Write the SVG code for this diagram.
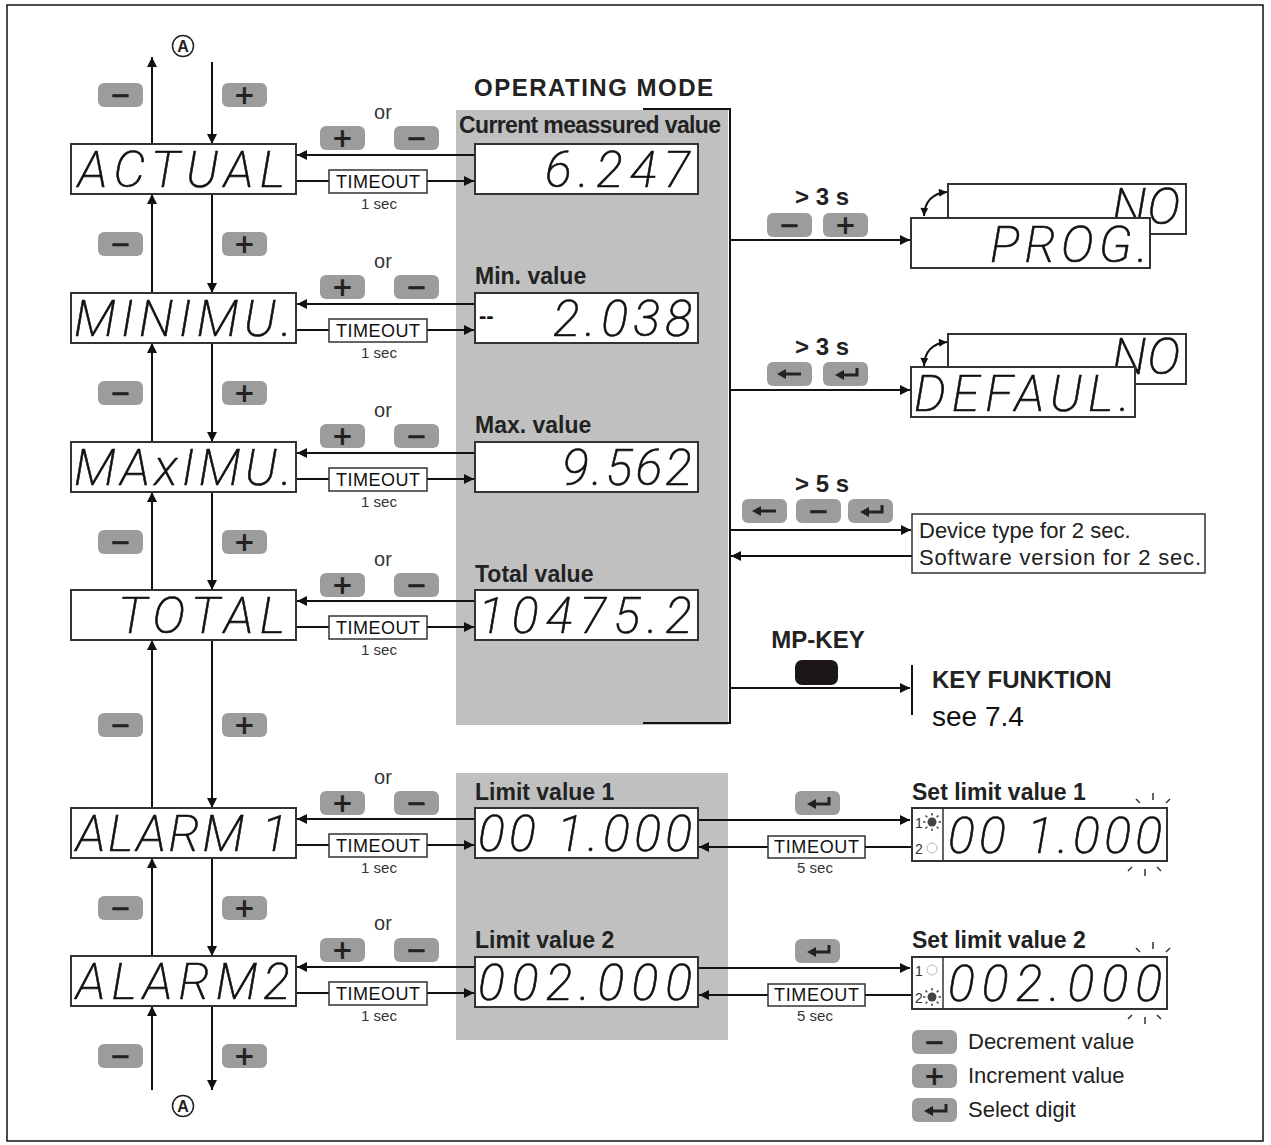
<svg xmlns="http://www.w3.org/2000/svg" xmlns:xlink="http://www.w3.org/1999/xlink" width="1271" height="1145" viewBox="0 0 1271 1145">
<style>
.btn{fill:#9c9c9c}
.bt{font-family:"DejaVu Sans",sans-serif;font-weight:bold;font-size:26px;fill:#222;text-anchor:middle}
.lcd{fill:#fff;stroke:#333;stroke-width:2}
.seg{font-family:Roboto,"DejaVu Sans",sans-serif;font-style:italic;font-weight:200;font-size:50px;fill:#111;stroke:#111;stroke-width:0.6}
.ln{stroke:#111;stroke-width:2;fill:none}
.to{font-family:"Liberation Sans",Arial,sans-serif;font-size:18px;fill:#111}
.sec{font-family:"Liberation Sans",Arial,sans-serif;font-size:15px;fill:#333;text-anchor:middle}
.or{font-family:"Liberation Sans",Arial,sans-serif;font-size:20px;fill:#333;text-anchor:middle}
.lbl{font-family:"Liberation Sans",Arial,sans-serif;font-weight:bold;font-size:23px;fill:#222}
.hd{font-family:"Liberation Sans",Arial,sans-serif;font-weight:bold;font-size:24px;fill:#222}
.tx{font-family:"Liberation Sans",Arial,sans-serif;font-size:22px;fill:#222}
.box{fill:#fff;stroke:#333;stroke-width:1.5}
.panel{fill:#c0c0c0}
.ico{stroke:#222;stroke-width:3;fill:none}
.sm{font-family:"Liberation Sans",Arial,sans-serif;font-size:14px;fill:#333}
</style>
<defs>
<marker id="ah" viewBox="0 0 10 10" refX="10" refY="5" markerWidth="13" markerHeight="10" markerUnits="userSpaceOnUse" orient="auto"><path d="M0,0 L10,5 L0,10 z" fill="#111"/></marker>
<marker id="as" viewBox="0 0 10 10" refX="10" refY="5" markerWidth="10" markerHeight="8" markerUnits="userSpaceOnUse" orient="auto-start-reverse"><path d="M0,0 L10,5 L0,10 z" fill="#111"/></marker>
<g id="bm"><rect width="45" height="24" rx="6" class="btn"/><text x="22.5" y="21" class="bt">−</text></g>
<g id="bp"><rect width="45" height="24" rx="6" class="btn"/><text x="22.5" y="21" class="bt">+</text></g>
<g id="bl"><rect width="45" height="24" rx="6" class="btn"/><line x1="34" y1="12" x2="18" y2="12" class="ico"/><path d="M10,12 L19,7 L19,17 z" fill="#222"/></g>
<g id="be"><rect width="45" height="24" rx="6" class="btn"/><polyline points="34,6 34,13 20,13" class="ico"/><path d="M12,13 L21,8 L21,18 z" fill="#222"/></g>
</defs>
<rect x="7" y="5" width="1256" height="1136" fill="#fff" stroke="#111" stroke-width="1.5"/>

<g id="panels">
<rect x="456" y="110" width="272" height="615" class="panel"/>
<rect x="456" y="773" width="272" height="267" class="panel"/>
<text x="474" y="96" class="hd" font-size="25" textLength="239">OPERATING MODE</text>
<text x="459" y="133" class="lbl" font-size="21" textLength="262">Current meassured value</text>
<text x="475" y="284" class="lbl">Min. value</text>
<text x="475" y="433" class="lbl">Max. value</text>
<text x="475" y="582" class="lbl">Total value</text>
<text x="475" y="800" class="lbl">Limit value 1</text>
<text x="475" y="948" class="lbl">Limit value 2</text>
</g>

<g id="connectors">
<polyline points="643,109 730,109 730,723 643,723" class="ln" stroke-width="2.5"/>
<line x1="152" y1="144" x2="152" y2="57" class="ln" marker-end="url(#ah)"/>
<line x1="212" y1="62" x2="212" y2="144" class="ln" marker-end="url(#ah)"/>
<line x1="152" y1="293" x2="152" y2="194" class="ln" marker-end="url(#ah)"/>
<line x1="212" y1="194" x2="212" y2="293" class="ln" marker-end="url(#ah)"/>
<line x1="152" y1="442" x2="152" y2="343" class="ln" marker-end="url(#ah)"/>
<line x1="212" y1="343" x2="212" y2="442" class="ln" marker-end="url(#ah)"/>
<line x1="152" y1="590" x2="152" y2="492" class="ln" marker-end="url(#ah)"/>
<line x1="212" y1="492" x2="212" y2="590" class="ln" marker-end="url(#ah)"/>
<line x1="152" y1="808" x2="152" y2="640" class="ln" marker-end="url(#ah)"/>
<line x1="212" y1="640" x2="212" y2="808" class="ln" marker-end="url(#ah)"/>
<line x1="152" y1="956" x2="152" y2="858" class="ln" marker-end="url(#ah)"/>
<line x1="212" y1="858" x2="212" y2="956" class="ln" marker-end="url(#ah)"/>
<line x1="152" y1="1090" x2="152" y2="1006" class="ln" marker-end="url(#ah)"/>
<line x1="212" y1="1006" x2="212" y2="1090" class="ln" marker-end="url(#ah)"/>
<line x1="475" y1="155" x2="297" y2="155" class="ln" marker-end="url(#ah)"/>
<line x1="296" y1="181" x2="329" y2="181" class="ln"/><line x1="427" y1="181" x2="474" y2="181" class="ln" marker-end="url(#ah)"/>
<line x1="475" y1="304" x2="297" y2="304" class="ln" marker-end="url(#ah)"/>
<line x1="296" y1="330" x2="329" y2="330" class="ln"/><line x1="427" y1="330" x2="474" y2="330" class="ln" marker-end="url(#ah)"/>
<line x1="475" y1="453" x2="297" y2="453" class="ln" marker-end="url(#ah)"/>
<line x1="296" y1="479" x2="329" y2="479" class="ln"/><line x1="427" y1="479" x2="474" y2="479" class="ln" marker-end="url(#ah)"/>
<line x1="475" y1="601" x2="297" y2="601" class="ln" marker-end="url(#ah)"/>
<line x1="296" y1="627" x2="329" y2="627" class="ln"/><line x1="427" y1="627" x2="474" y2="627" class="ln" marker-end="url(#ah)"/>
<line x1="475" y1="819" x2="297" y2="819" class="ln" marker-end="url(#ah)"/>
<line x1="296" y1="845" x2="329" y2="845" class="ln"/><line x1="427" y1="845" x2="474" y2="845" class="ln" marker-end="url(#ah)"/>
<line x1="475" y1="967" x2="297" y2="967" class="ln" marker-end="url(#ah)"/>
<line x1="296" y1="993" x2="329" y2="993" class="ln"/><line x1="427" y1="993" x2="474" y2="993" class="ln" marker-end="url(#ah)"/>
<line x1="731" y1="240" x2="910" y2="240" class="ln" marker-end="url(#ah)"/>
<line x1="731" y1="390" x2="910" y2="390" class="ln" marker-end="url(#ah)"/>
<line x1="731" y1="530" x2="911" y2="530" class="ln" marker-end="url(#ah)"/>
<line x1="912" y1="556" x2="731" y2="556" class="ln" marker-end="url(#ah)"/>
<line x1="731" y1="688" x2="910" y2="688" class="ln" marker-end="url(#ah)"/>
<line x1="912" y1="665" x2="912" y2="715" class="ln"/>
<path d="M924,216 Q925,194 947,192" class="ln" stroke-width="1.5" marker-start="url(#as)" marker-end="url(#as)"/>
<path d="M924,366 Q925,344 947,342" class="ln" stroke-width="1.5" marker-start="url(#as)" marker-end="url(#as)"/>
<line x1="698" y1="820" x2="910" y2="820" class="ln" marker-end="url(#ah)"/>
<line x1="912" y1="847" x2="865" y2="847" class="ln"/><line x1="768" y1="847" x2="699" y2="847" class="ln" marker-end="url(#ah)"/>
<line x1="698" y1="968" x2="910" y2="968" class="ln" marker-end="url(#ah)"/>
<line x1="912" y1="995" x2="865" y2="995" class="ln"/><line x1="768" y1="995" x2="699" y2="995" class="ln" marker-end="url(#ah)"/>
</g>

<g id="labels-left">
<circle cx="183" cy="46" r="10.5" fill="none" stroke="#222" stroke-width="1.5"/>
<text x="183" y="52" text-anchor="middle" font-family="Liberation Sans,Arial,sans-serif" font-weight="bold" font-size="16" fill="#222">A</text>
<circle cx="183" cy="1106" r="10.5" fill="none" stroke="#222" stroke-width="1.5"/>
<text x="183" y="1112" text-anchor="middle" font-family="Liberation Sans,Arial,sans-serif" font-weight="bold" font-size="16" fill="#222">A</text>
<use href="#bm" x="98" y="83"/><use href="#bp" x="222" y="83"/>
<use href="#bm" x="98" y="232"/><use href="#bp" x="222" y="232"/>
<use href="#bm" x="98" y="381"/><use href="#bp" x="222" y="381"/>
<use href="#bm" x="98" y="530"/><use href="#bp" x="222" y="530"/>
<use href="#bm" x="98" y="713"/><use href="#bp" x="222" y="713"/>
<use href="#bm" x="98" y="896"/><use href="#bp" x="222" y="896"/>
<use href="#bm" x="98" y="1044"/><use href="#bp" x="222" y="1044"/>
</g>

<g id="row-keys">
<text x="383" y="119" class="or">or</text><use href="#bp" x="320" y="126"/><use href="#bm" x="394" y="126"/>
<text x="383" y="268" class="or">or</text><use href="#bp" x="320" y="275"/><use href="#bm" x="394" y="275"/>
<text x="383" y="417" class="or">or</text><use href="#bp" x="320" y="424"/><use href="#bm" x="394" y="424"/>
<text x="383" y="566" class="or">or</text><use href="#bp" x="320" y="573"/><use href="#bm" x="394" y="573"/>
<text x="383" y="784" class="or">or</text><use href="#bp" x="320" y="791"/><use href="#bm" x="394" y="791"/>
<text x="383" y="930" class="or">or</text><use href="#bp" x="320" y="938"/><use href="#bm" x="394" y="938"/>
</g>

<g id="timeouts">
<rect x="329" y="170" width="98" height="23" class="box"/><text x="336" y="188" class="to" textLength="84">TIMEOUT</text><text x="379" y="209" class="sec">1 sec</text>
<rect x="329" y="319" width="98" height="23" class="box"/><text x="336" y="337" class="to" textLength="84">TIMEOUT</text><text x="379" y="358" class="sec">1 sec</text>
<rect x="329" y="468" width="98" height="23" class="box"/><text x="336" y="486" class="to" textLength="84">TIMEOUT</text><text x="379" y="507" class="sec">1 sec</text>
<rect x="329" y="616" width="98" height="23" class="box"/><text x="336" y="634" class="to" textLength="84">TIMEOUT</text><text x="379" y="655" class="sec">1 sec</text>
<rect x="329" y="834" width="98" height="23" class="box"/><text x="336" y="852" class="to" textLength="84">TIMEOUT</text><text x="379" y="873" class="sec">1 sec</text>
<rect x="329" y="982" width="98" height="23" class="box"/><text x="336" y="1000" class="to" textLength="84">TIMEOUT</text><text x="379" y="1021" class="sec">1 sec</text>
<rect x="768" y="836" width="97" height="22" class="box"/><text x="774" y="853" class="to" textLength="85">TIMEOUT</text><text x="815" y="873" class="sec">5 sec</text>
<rect x="768" y="984" width="97" height="22" class="box"/><text x="774" y="1001" class="to" textLength="85">TIMEOUT</text><text x="815" y="1021" class="sec">5 sec</text>
</g>

<g id="n-actual"><rect x="71" y="144" width="225" height="50" class="lcd"/><text x="78" y="187" class="seg" textLength="207" lengthAdjust="spacing">ACTUAL</text></g>
<g id="n-minimu"><rect x="71" y="293" width="225" height="50" class="lcd"/><text x="74" y="336" class="seg" textLength="218" lengthAdjust="spacing">MINIMU.</text></g>
<g id="n-maximu"><rect x="71" y="442" width="225" height="50" class="lcd"/><text x="74" y="485" class="seg" textLength="218" lengthAdjust="spacing">MAxIMU.</text></g>
<g id="n-total"><rect x="71" y="590" width="225" height="50" class="lcd"/><text x="118" y="633" class="seg" textLength="167" lengthAdjust="spacing">TOTAL</text></g>
<g id="n-alarm1"><rect x="71" y="808" width="225" height="50" class="lcd"/><text x="76" y="851" class="seg" textLength="212" lengthAdjust="spacing">ALARM 1</text></g>
<g id="n-alarm2"><rect x="71" y="956" width="225" height="50" class="lcd"/><text x="76" y="999" class="seg" textLength="214" lengthAdjust="spacing">ALARM2</text></g>

<g id="n-cur"><rect x="475" y="144" width="223" height="50" class="lcd"/><text x="545" y="187" class="seg" textLength="145" lengthAdjust="spacing">6.247</text></g>
<g id="n-min"><rect x="475" y="293" width="223" height="50" class="lcd"/><text x="479" y="323" font-family="Liberation Sans,Arial,sans-serif" font-weight="bold" font-size="22" fill="#111">--</text><text x="553" y="336" class="seg" textLength="139" lengthAdjust="spacing">2.038</text></g>
<g id="n-max"><rect x="475" y="442" width="223" height="50" class="lcd"/><text x="562" y="485" class="seg" textLength="130" lengthAdjust="spacing">9.562</text></g>
<g id="n-tot"><rect x="475" y="590" width="223" height="50" class="lcd"/><text x="478" y="633" class="seg" textLength="214" lengthAdjust="spacing">10475.2</text></g>
<g id="n-lim1"><rect x="475" y="808" width="223" height="50" class="lcd"/><text x="478" y="851" class="seg" textLength="214" lengthAdjust="spacing">00 1.000</text></g>
<g id="n-lim2"><rect x="475" y="957" width="223" height="50" class="lcd"/><text x="478" y="1000" class="seg" textLength="214" lengthAdjust="spacing">002.000</text></g>

<g id="n-prog">
<text x="822" y="205" class="hd" text-anchor="middle">&gt; 3 s</text>
<use href="#bm" x="767" y="213"/><use href="#bp" x="823" y="213"/>
<rect x="948" y="184" width="238" height="50" class="lcd"/><text x="1112" y="224" class="seg" font-size="44" textLength="68" lengthAdjust="spacing">NO</text>
<rect x="911" y="218" width="239" height="50" class="lcd"/><text x="990" y="262" class="seg" font-size="46" textLength="158" lengthAdjust="spacing">PROG.</text>
</g>
<g id="n-default">
<text x="822" y="355" class="hd" text-anchor="middle">&gt; 3 s</text>
<use href="#bl" x="767" y="362"/><use href="#be" x="823" y="362"/>
<rect x="948" y="334" width="238" height="50" class="lcd"/><text x="1112" y="374" class="seg" font-size="44" textLength="68" lengthAdjust="spacing">NO</text>
<rect x="911" y="367" width="224" height="50" class="lcd"/><text x="914" y="411" class="seg" font-size="46" textLength="216" lengthAdjust="spacing">DEFAUL.</text>
</g>
<g id="n-device">
<text x="822" y="492" class="hd" text-anchor="middle">&gt; 5 s</text>
<use href="#bl" x="742" y="499"/><use href="#bm" x="796" y="499"/><use href="#be" x="848" y="499"/>
<rect x="912" y="514" width="293" height="59" class="box"/>
<text x="919" y="538" class="tx">Device type for 2 sec.</text>
<text x="919" y="565" class="tx" textLength="282">Software version for 2 sec.</text>
</g>
<g id="n-mpkey">
<text x="818" y="648" class="hd" text-anchor="middle" font-size="25">MP-KEY</text>
<rect x="795" y="660" width="43" height="25" rx="7" fill="#1c1616"/>
<text x="932" y="688" class="hd" font-size="26">KEY FUNKTION</text>
<text x="932" y="726" font-family="Liberation Sans,Arial,sans-serif" font-size="28" fill="#111">see 7.4</text>
</g>

<g id="n-set1">
<use href="#be" x="795" y="791"/>
<text x="912" y="800" class="lbl">Set limit value 1</text>
<rect x="912" y="808" width="255" height="53" class="lcd"/>
<line x1="943" y1="808" x2="943" y2="861" stroke="#333" stroke-width="1.5"/>
<text x="915" y="828" class="sm">1</text>
<circle cx="932" cy="822" r="4.5" fill="#444"/>
<g stroke="#444" stroke-width="1.5"><line x1="932" y1="813" x2="932" y2="815.5"/><line x1="932" y1="828.5" x2="932" y2="831"/><line x1="923" y1="822" x2="925.5" y2="822"/><line x1="938.5" y1="822" x2="941" y2="822"/><line x1="925.5" y1="815.5" x2="927.3" y2="817.3"/><line x1="936.7" y1="826.7" x2="938.5" y2="828.5"/><line x1="938.5" y1="815.5" x2="936.7" y2="817.3"/><line x1="927.3" y1="826.7" x2="925.5" y2="828.5"/></g>
<text x="915" y="854" class="sm">2</text>
<circle cx="932" cy="848" r="5" fill="none" stroke="#bbb" stroke-width="1"/>
<text x="948" y="853" class="seg" textLength="214" lengthAdjust="spacing">00 1.000</text>
<g stroke="#333" stroke-width="1.5"><line x1="1136" y1="799" x2="1140" y2="803"/><line x1="1153" y1="793" x2="1153" y2="800"/><line x1="1170" y1="799" x2="1166" y2="803"/><line x1="1128" y1="871" x2="1132" y2="867"/><line x1="1145" y1="869" x2="1145" y2="876"/><line x1="1161" y1="871" x2="1157" y2="867"/></g>
</g>
<g id="n-set2">
<use href="#be" x="795" y="939"/>
<text x="912" y="948" class="lbl">Set limit value 2</text>
<rect x="912" y="957" width="255" height="52" class="lcd"/>
<line x1="943" y1="957" x2="943" y2="1009" stroke="#333" stroke-width="1.5"/>
<text x="915" y="976" class="sm">1</text>
<circle cx="932" cy="970" r="5" fill="none" stroke="#bbb" stroke-width="1"/>
<text x="915" y="1003" class="sm">2</text>
<circle cx="932" cy="997" r="4.5" fill="#444"/>
<g stroke="#444" stroke-width="1.5"><line x1="932" y1="988" x2="932" y2="990.5"/><line x1="932" y1="1003.5" x2="932" y2="1006"/><line x1="923" y1="997" x2="925.5" y2="997"/><line x1="938.5" y1="997" x2="941" y2="997"/><line x1="925.5" y1="990.5" x2="927.3" y2="992.3"/><line x1="936.7" y1="1001.7" x2="938.5" y2="1003.5"/><line x1="938.5" y1="990.5" x2="936.7" y2="992.3"/><line x1="927.3" y1="1001.7" x2="925.5" y2="1003.5"/></g>
<text x="948" y="1001" class="seg" textLength="214" lengthAdjust="spacing">002.000</text>
<g stroke="#333" stroke-width="1.5"><line x1="1136" y1="948" x2="1140" y2="952"/><line x1="1153" y1="942" x2="1153" y2="949"/><line x1="1170" y1="948" x2="1166" y2="952"/><line x1="1128" y1="1019" x2="1132" y2="1015"/><line x1="1145" y1="1017" x2="1145" y2="1024"/><line x1="1161" y1="1019" x2="1157" y2="1015"/></g>
</g>

<g id="legend">
<use href="#bm" x="912" y="1030"/><text x="968" y="1049" class="tx" font-size="23" fill="#333">Decrement value</text>
<use href="#bp" x="912" y="1064"/><text x="968" y="1083" class="tx" font-size="23" fill="#333">Increment value</text>
<use href="#be" x="912" y="1098"/><text x="968" y="1117" class="tx" font-size="23" fill="#333">Select digit</text>
</g>
</svg>
